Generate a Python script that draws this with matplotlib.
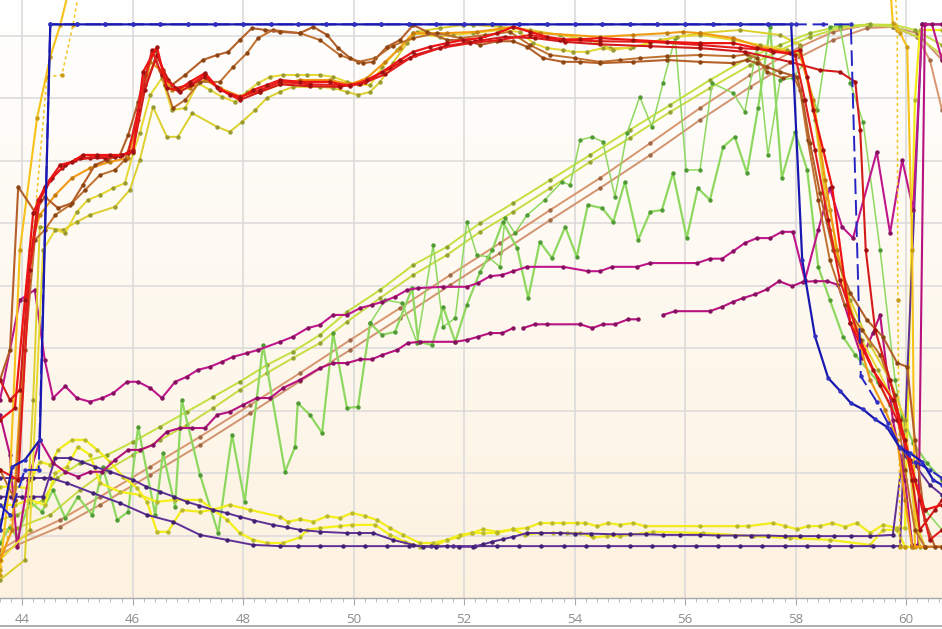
import numpy as np
import matplotlib
matplotlib.use("Agg")
import matplotlib.pyplot as plt
from matplotlib.ticker import MultipleLocator
from matplotlib.lines import Line2D

nan = np.nan
X_TICKS = [44, 46, 48, 50, 52, 54, 56, 58, 60]

# ---------------- data (x in axis units, y in arbitrary level units) -------------
flat_x = [45.0, 45.5, 46.0, 46.5, 47.0, 47.5, 48.0, 48.5, 49.0, 49.5, 50.0, 50.5, 51.0, 51.5,
          52.0, 52.5, 53.0, 53.5, 54.0, 54.5, 55.0, 55.5, 56.0, 56.5, 57.0, 57.5]
BLUE1_X = [43.6, 43.82, 44.05, 44.32, 44.51] + flat_x + [57.92, 58.12, 58.35, 58.59, 58.8, 59.0,
           59.22, 59.44, 59.65, 59.89, 60.07, 60.29, 60.49, 60.65]
BLUE1_Y = [10.9, 21.0, 22.1, 25.3, 91.8] + [91.8] * 26 + [91.8, 54.1, 41.9, 35.2, 33.2, 31.2,
           30.2, 28.6, 27.4, 24.0, 23.2, 21.8, 18.9, 18.1]
BLUE2_X = [43.6, 43.78, 44.05, 44.3, 44.51] + flat_x + [58.0, 58.5, 59.0, 59.18, 59.47, 59.67,
           59.89, 60.16, 60.43, 60.65]
BLUE2_Y = [14.9, 13.3, 20.5, 20.5, 91.8] + [91.8] * 26 + [91.8, 91.8, 91.8, 35.5, 31.4, 28.0,
           24.2, 21.8, 20.5, 19.2]

RED1_X = [43.6, 43.87, 44.05, 44.2, 44.41, 44.69, 44.9, 45.1, 45.36, 45.59, 45.81, 46.01, 46.19,
          46.44, 46.62, 46.82, 47.04, 47.31, 47.53, 47.76, 47.94, 48.18, 48.43, 48.67, 49.03,
          49.57, 49.94, 50.24, 50.52, 50.84, 51.08, 51.38, 51.69, 51.98, 52.29, 52.6, 52.89,
          53.19, 53.5, 53.79, 54.1, 54.46, 55.06, 55.67, 56.27, 56.87, 57.3, 57.59, 57.9, 58.08,
          58.21, 58.32, 58.5, 58.66, 58.99, 59.4, 59.76, 59.98, 60.16, 60.34, 60.65]
RED1_Y = [28.5, 30.4, 47.7, 61.6, 65.8, 69.3, 69.8, 70.9, 70.9, 70.9, 70.9, 71.4, 84.2, 88.2,
          81.6, 81.3, 82.6, 84.0, 81.8, 80.5, 80.0, 81.3, 82.1, 82.9, 82.6, 82.6, 81.9, 82.9, 84.2,
          86.1, 87.4, 88.2, 88.8, 89.3, 89.6, 90.4, 91.4, 90.6, 89.8, 89.4, 89.4, 89.6, 89.3, 89.0,
          88.8, 88.8, 88.0, 87.4, 87.2, 87.7, 83.4, 78.1, 71.7, 65.8, 44.0, 36.5, 31.7, 25.3, 18.9,
          14.1, 14.9]
RED2_X = [43.6, 43.93, 44.14, 44.32, 44.54, 44.78, 45.05, 45.36, 45.68, 45.92, 46.1, 46.35, 46.53,
          46.77, 47.04, 47.31, 47.58, 47.94, 48.31, 48.67, 49.21, 49.75, 50.12, 50.57, 51.02,
          51.56, 52.11, 52.65, 53.19, 53.74, 54.46, 55.37, 56.27, 57.0, 57.54, 57.99, 58.17,
          58.35, 58.59, 58.8, 59.17, 59.53, 59.84, 60.07, 60.25, 60.43, 60.65]
RED2_Y = [20.5, 18.9, 52.5, 63.7, 67.2, 69.3, 70.4, 70.6, 70.6, 71.2, 78.1, 87.7, 83.7, 81.6,
          82.1, 83.7, 81.3, 80.2, 81.3, 82.6, 82.2, 82.1, 82.2, 83.8, 86.4, 88.0, 88.8, 89.3, 90.1,
          89.3, 89.1, 89.0, 88.5, 88.0, 87.7, 86.9, 79.7, 71.7, 60.5, 50.9, 41.3, 34.1, 28.5, 22.1,
          15.7, 9.3, 10.9]
RED3_X = [43.6, 43.78, 43.96, 44.11, 44.29, 44.51, 44.72, 44.96, 45.23, 45.5, 45.77, 46.01, 46.22,
          46.44, 46.64, 46.86, 47.08, 47.31, 47.55, 47.94, 48.31, 48.67, 49.21, 49.75, 50.21,
          50.66, 51.11, 51.66, 52.2, 52.74, 53.28, 53.83, 54.46, 55.37, 56.27, 57.08, 57.9, 58.44,
          58.8, 59.08, 59.17, 59.27, 59.44, 59.71, 59.89, 60.11, 60.25, 60.52, 60.65]
RED3_Y = [34.9, 31.7, 33.3, 50.9, 63.7, 66.9, 68.8, 70.1, 70.4, 70.4, 70.7, 71.7, 81.3, 86.9,
          82.9, 81.0, 82.2, 83.4, 81.6, 79.7, 81.0, 82.2, 81.9, 81.8, 82.6, 84.8, 86.9, 88.3, 89.1,
          89.8, 89.6, 89.0, 88.6, 88.3, 88.0, 87.4, 85.8, 84.5, 84.2, 82.6, 74.9, 55.7, 42.9, 34.9,
          28.5, 18.9, 10.9, 14.1, 15.7]

BROWN1_X = [43.6, 43.78, 43.93, 44.23, 44.41, 44.65, 44.9, 45.1, 45.32, 45.54, 45.77, 45.92, 46.1,
            46.22, 46.41, 46.55, 46.71, 46.95, 47.27, 47.53, 47.73, 47.94, 48.16, 48.4, 48.67,
            49.03, 49.27, 49.52, 49.72, 49.94, 50.17, 50.35, 50.6, 50.84, 51.08, 51.33, 51.69,
            52.05, 52.29, 52.6, 52.89, 53.14, 53.43, 53.79, 54.1, 54.46, 55.06, 55.67, 56.27,
            56.87, 57.12, 57.3, 57.48, 57.72, 58.03, 58.13, 58.26, 58.44, 58.68, 58.99, 59.29,
            59.58, 59.84, 60.02, 60.16, 60.34, 60.52, 60.65]
BROWN1_Y = [34.9, 39.7, 65.8, 61.8, 64.2, 62.4, 63.2, 66.1, 69.3, 70.1, 70.9, 74.1, 79.4, 83.7,
            87.7, 84.5, 82.1, 83.7, 86.1, 86.9, 87.4, 89.3, 91.2, 90.9, 90.6, 90.4, 91.4, 90.1,
            88.0, 86.4, 85.6, 85.8, 88.2, 89.3, 91.7, 90.6, 89.3, 89.3, 88.5, 89.1, 89.1, 88.2,
            86.4, 85.8, 85.8, 85.6, 85.8, 86.1, 85.8, 85.6, 86.1, 85.6, 85.0, 84.2, 83.4, 79.7,
            72.8, 64.8, 55.7, 48.8, 44.5, 41.8, 37.6, 37.0, 25.3, 12.5, 8.2, 8.2]
BROWN2_X = [43.6, 43.87, 44.05, 44.23, 44.41, 44.6, 44.87, 45.14, 45.41, 45.68, 45.86, 46.04,
            46.22, 46.41, 46.59, 46.73, 46.95, 47.22, 47.58, 47.82, 48.07, 48.27, 48.54, 49.03,
            49.39, 49.75, 50.08, 50.39, 50.71, 51.08, 51.51, 51.93, 52.38, 52.83, 53.19, 53.56,
            54.01, 54.46, 54.82, 55.18, 55.67, 56.27, 56.87, 57.12, 57.3, 57.48, 57.77, 57.95,
            58.08, 58.22, 58.41, 58.62, 58.89, 59.2, 59.53, 59.8, 59.98, 60.16, 60.34, 60.65]
BROWN2_Y = [20.5, 15.7, 39.7, 57.3, 58.9, 61.3, 62.9, 65.3, 67.7, 68.5, 70.1, 74.9, 82.1, 86.1,
            82.1, 78.4, 79.7, 82.6, 82.6, 85.0, 87.2, 89.6, 90.9, 90.4, 89.3, 86.9, 85.8, 86.4,
            88.4, 89.6, 90.4, 89.6, 90.1, 90.6, 88.5, 86.9, 86.4, 85.8, 86.1, 86.4, 86.7, 86.9,
            86.7, 87.0, 86.4, 84.2, 83.2, 83.7, 81.3, 73.3, 63.7, 54.1, 46.9, 42.9, 38.9, 32.5,
            20.5, 10.9, 8.2, 8.2]

ORANGE_X = [43.6, 43.82, 43.99, 44.14, 44.32, 44.6, 44.9, 45.23, 45.59, 45.92, 46.1, 46.32, 46.5,
            46.71, 47.04, 47.31, 47.58, 47.94, 48.31, 48.67, 49.03, 49.57, 49.94, 50.24, 50.57,
            50.84, 51.08, 51.69, 52.23, 52.89, 53.37, 54.46, 55.06, 55.67, 55.96, 56.27, 56.87,
            57.36, 57.84, 58.08, 58.32, 58.53, 58.75, 59.08, 59.35, 59.62, 59.84, 59.98, 60.11,
            60.34, 60.65]
ORANGE_Y = [6.1, 10.9, 34.9, 55.7, 61.3, 64.5, 67.2, 68.8, 69.8, 70.4, 76.5, 85.8, 84.5, 81.3,
            81.6, 82.9, 81.6, 80.3, 81.0, 82.2, 82.9, 82.9, 82.2, 83.2, 85.8, 88.0, 90.4, 90.4,
            90.6, 91.4, 90.4, 89.8, 90.1, 90.4, 90.6, 90.4, 89.6, 88.2, 87.4, 86.9, 79.7, 66.9,
            55.7, 42.9, 34.9, 30.1, 25.3, 15.7, 8.2, 8.2, 8.2]
GOLD1_X = [43.6, 43.78, 43.96, 44.27, 44.51, 44.69, 44.87, 59.71, 59.76, 59.89, 60.02, 60.11,
           60.16, 60.65]
GOLD1_Y = [4.5, 18.9, 55.7, 76.8, 86.6, 91.7, 98.1, 98.1, 92.0, 90.4, 88.2, 55.7, 8.2, 8.2]
GOLD2_X = [43.6, 43.87, 44.18, 44.45, 44.72, 44.92, 45.05, 59.8, 59.84, 59.85, 59.89, 59.98]
GOLD2_Y = [3.7, 15.7, 55.7, 83.4, 83.7, 91.7, 98.1, 98.1, 90.9, 47.7, 8.2, 8.2]

OLIVE1_X = [43.6, 44.14, 44.38, 44.6, 44.78, 44.99, 45.19, 45.41, 45.65, 45.86, 46.01, 46.13,
            46.32, 46.53, 46.71, 46.95, 47.18, 47.4, 47.62, 47.85, 48.07, 48.27, 48.49, 48.72,
            48.98, 49.16, 49.39, 49.63, 49.88, 50.08, 50.3, 50.52, 50.79, 51.08, 51.56, 51.8,
            52.16, 52.65, 53.01, 53.25, 53.5, 53.79, 53.97, 54.22, 54.51, 54.7, 55.06, 55.37,
            55.85, 56.27, 56.87, 57.36, 57.84, 58.08, 58.35, 58.62, 58.89, 59.2, 59.49, 59.76,
            59.98, 60.11, 60.25]
OLIVE1_Y = [6.1, 10.9, 55.7, 58.9, 58.4, 61.8, 63.7, 64.5, 65.6, 66.4, 71.2, 74.4, 80.5, 83.2,
            78.1, 78.4, 82.4, 81.3, 80.2, 79.4, 81.0, 82.4, 83.4, 83.7, 83.7, 83.7, 83.7, 83.4,
            82.6, 82.2, 82.1, 85.0, 87.7, 90.4, 89.8, 90.1, 90.4, 90.9, 90.6, 88.8, 88.0, 87.7,
            87.4, 87.4, 88.0, 87.7, 88.2, 88.8, 89.8, 90.1, 89.3, 88.5, 87.7, 87.2, 78.1, 62.1,
            49.3, 41.3, 36.5, 31.7, 26.9, 18.9, 8.2]
OLIVE2_X = [43.6, 44.05, 44.2, 44.32, 44.74, 44.99, 45.23, 45.68, 45.95, 46.13, 46.37, 46.62,
            46.82, 47.08, 47.53, 47.76, 47.98, 48.22, 48.43, 48.67, 48.9, 49.39, 49.63, 49.88,
            50.08, 50.3, 50.48, 50.71, 50.97, 51.15, 51.56, 51.98, 52.16, 52.65, 53.19, 53.74,
            54.28, 54.64, 55.0, 55.55, 56.27, 56.99, 57.72, 58.08, 58.35, 58.62, 58.99, 59.35,
            59.71, 59.98, 60.16, 60.34]
OLIVE2_Y = [2.9, 6.1, 31.7, 59.4, 58.9, 60.2, 61.3, 62.6, 65.3, 70.1, 78.6, 73.8, 73.8, 77.6,
            75.4, 74.6, 76.2, 78.1, 80.0, 81.0, 81.8, 81.8, 81.6, 81.0, 80.5, 81.0, 82.6, 85.6,
            88.8, 90.6, 91.2, 91.7, 91.7, 91.4, 90.9, 90.1, 89.3, 88.0, 88.0, 89.3, 90.4, 90.9,
            90.1, 88.5, 76.5, 58.9, 47.7, 40.5, 34.9, 28.5, 12.5, 8.2]

DIAG1_X = [43.6, 43.91, 44.38, 44.63, 45.05, 45.54, 46.01, 46.5, 46.98, 47.46, 47.94, 48.43,
           48.9, 49.39, 49.88, 50.48, 51.08, 51.69, 52.29, 52.89, 53.56, 54.28, 55.0, 55.73,
           56.45, 57.18, 57.72, 58.26, 58.8, 59.35, 59.8, 60.16, 60.65]
DIAG1_Y = [12.5, 13.3, 15.7, 19.2, 21.6, 22.9, 25.0, 27.4, 29.8, 32.2, 34.6, 37.3, 39.4, 42.1,
           45.8, 49.3, 53.3, 56.2, 60.0, 63.2, 66.9, 70.9, 74.9, 78.9, 82.9, 86.6, 88.5, 90.4,
           91.5, 91.8, 91.7, 90.9, 88.5]
DIAG2_X = [43.6, 43.91, 44.51, 45.05, 45.54, 46.01, 46.5, 46.98, 47.46, 47.94, 48.43, 48.9,
           49.39, 49.88, 50.48, 51.08, 51.69, 52.29, 52.89, 53.56, 54.28, 55.0, 55.73, 56.45,
           57.18, 57.72, 58.26, 58.8, 59.35, 59.8, 60.25, 60.65]
DIAG2_Y = [10.9, 11.2, 13.3, 17.3, 20.5, 22.9, 25.3, 27.7, 30.4, 33.3, 36.0, 38.4, 40.8, 44.2,
           48.0, 51.7, 54.9, 58.6, 61.8, 65.6, 69.8, 73.6, 77.8, 81.6, 85.3, 87.7, 89.8, 91.2,
           91.7, 91.4, 89.6, 86.9]
TAN1_X = [43.6, 43.91, 44.69, 45.41, 46.32, 47.22, 48.13, 49.03, 49.94, 50.84, 51.75, 52.65,
          53.56, 54.46, 55.37, 56.27, 57.18, 58.08, 58.68, 59.29, 59.76, 60.2, 60.43, 60.65]
TAN1_Y = [7.7, 9.3, 12.5, 16.2, 21.0, 25.8, 30.9, 36.0, 41.3, 46.4, 51.7, 56.8, 62.1, 67.2,
          72.8, 78.4, 83.7, 88.2, 90.6, 91.7, 91.4, 89.8, 86.1, 78.1]
TAN2_X = [43.6, 43.91, 44.69, 45.41, 46.32, 47.22, 48.13, 49.03, 49.94, 50.84, 51.75, 52.65,
          53.56, 54.46, 55.37, 56.27, 57.18, 58.08, 58.68, 59.29, 59.76, 60.2, 60.65]
TAN2_Y = [6.9, 8.5, 11.4, 14.9, 19.7, 24.5, 29.6, 34.7, 39.7, 44.8, 50.1, 55.2, 60.5, 65.6,
          70.9, 76.5, 81.8, 86.6, 89.3, 91.2, 91.4, 90.4, 86.1]

GREEN1_X = [43.6, 43.78, 43.91, 44.14, 44.36, 44.56, 44.78, 45.01, 45.27, 45.46, 45.72, 45.92,
            46.1, 46.41, 46.55, 46.77, 46.89, 47.22, 47.55, 47.8, 48.03, 48.36, 48.76, 48.94,
            48.99, 49.21, 49.43, 49.63, 49.88, 50.08, 50.3, 50.51, 50.75, 51.06, 51.17, 51.42,
            51.62, 51.84, 52.05, 52.29, 52.51, 52.7, 52.96, 53.16, 53.37, 53.59, 53.83, 54.04,
            54.24, 54.5, 54.7, 54.91, 55.15, 55.37, 55.58, 55.78, 56.03, 56.23, 56.45, 56.69,
            56.9, 57.12, 57.32, 57.54, 57.75, 57.99, 58.21, 58.41, 58.62, 58.86, 59.08, 59.49,
            59.71, 59.93, 60.13, 60.38, 60.65]
GREEN1_Y = [8.8, 11.4, 9.7, 15.4, 13.8, 17.3, 12.8, 16.2, 13.3, 21.0, 12.5, 13.8, 27.4, 13.3,
            23.2, 14.6, 31.7, 19.7, 10.4, 26.1, 15.4, 40.5, 20.2, 24.2, 31.2, 29.3, 26.4, 42.4,
            30.4, 30.6, 44.0, 42.1, 42.6, 49.6, 41.0, 40.5, 46.6, 41.0, 46.9, 52.2, 55.7, 60.2,
            56.0, 48.0, 57.0, 54.4, 59.4, 54.6, 62.9, 62.4, 60.2, 66.6, 57.3, 61.8, 62.1, 68.0,
            57.6, 65.6, 63.7, 72.2, 73.8, 68.0, 78.4, 91.4, 67.2, 74.6, 68.5, 53.0, 47.7, 41.8,
            38.9, 34.6, 30.9, 29.0, 24.8, 21.6, 18.9]
GREEN2_X = [50.3, 50.57, 50.88, 51.15, 51.44, 51.62, 51.84, 52.05, 52.23, 52.43, 52.65, 52.74,
            52.92, 53.14, 53.46, 53.77, 53.92, 54.1, 54.32, 54.51, 54.73, 54.95, 55.18, 55.4,
            55.6, 55.82, 56.02, 56.27, 56.49, 56.87, 57.08, 57.3, 57.5, 57.72, 57.95, 58.13,
            58.39, 58.62, 58.8, 58.99, 59.22, 59.53, 59.8, 60.07, 60.34, 60.65]
GREEN2_Y = [44.0, 47.7, 47.2, 40.8, 56.5, 43.4, 44.8, 60.2, 54.9, 54.6, 53.0, 60.8, 58.4, 61.3,
            63.7, 66.6, 66.1, 73.3, 73.8, 73.0, 64.2, 74.4, 80.2, 75.4, 82.4, 89.6, 68.5, 68.5,
            82.4, 80.8, 77.8, 88.2, 70.9, 82.9, 83.2, 85.3, 78.1, 91.4, 91.7, 82.4, 76.2, 55.7,
            34.9, 22.1, 14.1, 10.9]

MAG1_X = [43.6, 43.96, 44.23, 44.41, 44.56, 44.78, 44.99, 45.23, 45.45, 45.65, 45.9, 46.1, 46.32,
          46.53, 46.77, 46.98, 47.18, 47.4, 47.62, 47.82, 48.07, 48.27, 48.67, 48.9, 49.17,
          49.39, 49.63, 49.88, 50.12, 50.33, 50.52, 50.75, 50.97, 51.17, 51.62, 52.05, 52.25,
          52.47, 52.69, 52.89, 53.14, 53.79, 54.24, 54.46, 54.68, 55.13, 55.37, 56.22, 56.45,
          56.67, 56.87, 57.08, 57.3, 57.54, 57.75, 57.95, 58.17, 58.41, 58.62, 58.84, 59.04,
          59.47, 59.71, 59.93, 60.13, 60.29, 60.47, 60.65]
MAG1_Y = [31.7, 47.7, 49.3, 38.1, 32.0, 33.9, 32.0, 31.4, 32.0, 32.8, 34.6, 34.6, 33.6, 32.0,
          34.6, 35.4, 36.5, 37.0, 37.8, 38.6, 39.2, 39.7, 41.0, 41.8, 43.2, 43.7, 45.3, 45.3, 46.4,
          46.9, 47.4, 48.2, 49.3, 49.6, 49.8, 49.8, 50.4, 51.5, 51.7, 52.3, 53.0, 53.0, 52.3, 52.3,
          53.0, 53.0, 53.6, 53.6, 54.3, 54.3, 55.5, 56.8, 57.6, 57.6, 58.6, 58.6, 50.9, 58.9, 65.6,
          59.4, 57.6, 71.4, 58.4, 70.1, 62.1, 91.8, 91.8, 86.1]
MAG2_X = [43.6, 43.78, 43.91, 44.11, 44.32, 44.56, 44.78, 45.01, 45.23, 45.45, 45.68, 45.92,
          46.13, 46.37, 46.62, 46.86, 47.08, 47.31, 47.53, 47.76, 48.0, 48.25, 48.49, 48.72,
          49.03, 49.39, 49.63, 49.88, 50.12, 50.33, 50.52, 50.79, 50.98, 51.2, 51.84, 52.05,
          52.25, 52.47, 52.69, 52.89, 52.98, 53.07, 53.28, 53.5, 54.1, 54.32, 54.51, 54.73,
          54.97, 55.15, 55.38, 55.6, 55.82, 56.45, 56.67, 56.87, 57.05, 57.27, 57.48, 57.7,
          57.94, 58.13, 58.35, 58.57, 58.77, 58.99, 59.2, 59.4, 59.53, 59.76, 59.98, 60.11,
          60.22, 60.34, 60.65]
MAG2_Y = [29.3, 22.9, 8.2, 18.9, 25.3, 21.6, 20.2, 19.4, 20.2, 20.2, 22.1, 23.7, 23.7, 24.5,
          26.6, 27.2, 27.2, 27.2, 29.3, 29.8, 30.9, 32.0, 32.0, 33.6, 34.9, 36.8, 37.6, 37.6,
          38.2, 38.2, 38.9, 39.7, 40.8, 41.0, 41.0, 41.3, 41.8, 42.4, 42.4, 43.2, nan, 43.2, 43.8,
          43.8, 43.8, 43.2, 43.8, 43.8, 44.6, 44.6, nan, 45.3, 45.9, 45.9, 46.6, 47.4, 48.0,
          48.6, 49.4, 50.7, 49.9, 50.6, 50.7, 50.7, 50.1, 44.0, 38.4, 42.4, 45.3, 28.5, 18.9,
          8.5, 8.5, 91.8, 91.8]

PURPLE1_X = [43.6, 43.8, 44.0, 44.2, 44.38, 44.6, 44.87, 45.08, 45.32, 45.6, 46.01, 46.25, 46.5,
             46.75, 46.98, 47.2, 47.46, 47.7, 47.94, 48.2, 48.54, 48.8, 49.03, 49.4, 49.88, 50.1,
             50.35, 50.71, 51.08, 51.26, 51.5, 51.69, 51.9, 52.16, 52.35, 52.51, 52.7, 52.89,
             53.14, 53.4, 53.74, 54.0, 54.3, 54.7, 55.0, 55.3, 55.6, 55.9, 56.27, 56.6, 56.9,
             57.2, 57.5, 57.8, 58.08, 58.4, 58.7, 59.0, 59.35, 59.76, 59.94, 60.16, 60.43, 60.65]
PURPLE1_Y = [16.2, 16.2, 16.2, 16.2, 16.2, 22.4, 22.4, 21.8, 21.0, 20.2, 18.9, 17.8, 17.0, 16.2,
             15.4, 14.8, 14.1, 13.6, 13.0, 12.4, 11.7, 11.3, 10.9, 10.6, 10.4, 10.4, 10.4, 9.3,
             8.5, 8.2, 8.2, 8.3, 8.2, 8.2, 8.6, 9.0, 9.4, 9.8, 10.4, 10.4, 10.4, 10.3, 10.3, 10.2,
             10.2, 10.2, 10.1, 10.1, 10.1, 10.0, 10.0, 10.0, 10.0, 9.9, 9.9, 9.9, 9.9, 9.9, 9.9,
             10.1, 22.9, 21.3, 18.1, 16.5]
PURPLE2_X = [43.6, 43.8, 44.0, 44.2, 44.4, 44.51, 44.81, 45.28, 45.77, 46.26, 46.73, 47.22,
             47.71, 48.18, 48.67, 49.0, 49.4, 49.8, 50.2, 50.6, 51.0, 51.4, 51.8, 52.2, 52.6,
             53.0, 53.4, 53.8, 54.2, 54.6, 55.0, 55.4, 55.8, 56.2, 56.6, 57.0, 57.4, 57.8, 58.2,
             58.6, 59.0, 59.4, 59.76, 59.89, 60.29, 60.65]
PURPLE2_Y = [19.2, 19.2, 19.2, 19.2, 19.2, 19.2, 18.4, 16.8, 15.2, 13.3, 12.2, 10.1, 9.3, 8.5,
             8.3, 8.3, 8.3, 8.3, 8.3, 8.3, 8.3, 8.3, 8.3, 8.3, 8.3, 8.3, 8.3, 8.3, 8.3, 8.3, 8.3,
             8.3, 8.3, 8.3, 8.3, 8.3, 8.3, 8.3, 8.3, 8.3, 8.3, 8.3, 8.3, 8.3, 91.8, 91.8]

YELLOW1_X = [43.6, 43.87, 44.09, 44.32, 44.51, 44.65, 44.9, 45.14, 45.36, 45.59, 45.83, 46.08,
             46.26, 46.44, 46.64, 46.89, 47.22, 47.44, 47.76, 48.13, 48.67, 48.81, 49.03, 49.27,
             49.52, 49.75, 49.97, 50.21, 50.42, 50.66, 50.89, 51.2, 51.44, 51.69, 51.93, 52.14,
             52.34, 52.6, 52.89, 53.14, 53.37, 53.59, 53.79, 54.04, 54.19, 54.41, 54.6, 54.82,
             55.06, 55.27, 56.27, 56.94, 57.14, 57.59, 57.81, 58.03, 58.22, 58.44, 58.66, 58.89,
             59.11, 59.35, 59.58, 59.84, 59.98, 60.16, 60.25, 60.65]
YELLOW1_Y = [17.8, 17.8, 17.6, 21.8, 21.3, 23.7, 25.3, 25.3, 23.7, 21.8, 19.4, 17.6, 15.4, 10.6,
             10.6, 14.1, 13.8, 14.1, 14.9, 14.1, 13.0, 12.2, 12.6, 12.2, 13.1, 12.8, 13.6, 13.1,
             12.5, 11.2, 10.1, 8.8, 8.8, 9.3, 10.1, 10.4, 11.0, 10.6, 11.0, 11.2, 12.0, 12.0, 12.0,
             12.0, 12.0, 11.5, 12.0, 11.7, 12.0, 11.5, 11.5, 11.5, 11.5, 12.0, 11.5, 11.0, 11.5,
             11.5, 12.0, 11.4, 12.0, 10.4, 11.7, 11.2, 11.2, 79.7, 90.9, 90.9]
YELLOW2_X = [43.6, 43.87, 44.14, 44.41, 44.6, 44.81, 45.01, 45.23, 45.41, 45.77, 46.13, 46.44,
             46.77, 47.22, 47.46, 47.71, 47.94, 48.18, 48.43, 48.72, 49.03, 49.16, 49.39, 49.75,
             49.97, 50.39, 50.66, 50.93, 51.2, 51.51, 51.69, 51.89, 52.14, 52.34, 52.6, 52.89,
             53.1, 53.37, 53.61, 53.86, 54.1, 54.33, 54.59, 54.82, 55.42, 56.32, 57.23, 57.9,
             58.62, 59.35, 59.58, 59.84, 59.98, 60.11]
YELLOW2_Y = [14.9, 14.9, 15.7, 14.9, 20.0, 21.0, 24.2, 22.9, 18.4, 17.0, 16.5, 15.4, 15.7, 15.7,
             14.1, 12.5, 10.4, 9.3, 8.8, 8.8, 9.7, 10.9, 11.2, 11.5, 11.7, 11.7, 10.1, 9.0, 8.2,
             8.5, 9.3, 9.7, 10.4, 10.4, 10.4, 11.0, 10.1, 10.4, 10.4, 10.4, 10.4, 9.7, 9.9, 9.9,
             10.6, 10.4, 9.9, 9.6, 9.3, 8.5, 10.9, 10.9, 8.2, 8.2]

# ---------------- styling ----------------
SERIES = [
    # (x, y, line colour, marker colour, linewidth, linestyle)
    (TAN2_X, TAN2_Y, "#d2936f", "#a06a48", 1.4, "-"),
    (TAN1_X, TAN1_Y, "#d8956e", "#a06a48", 1.4, "-"),
    (DIAG2_X, DIAG2_Y, "#c8dc44", "#94a235", 1.4, "-"),
    (DIAG1_X, DIAG1_Y, "#c4e040", "#8aa030", 1.4, "-"),
    (GREEN2_X, GREEN2_Y, "#8fd860", "#4f9a35", 1.1, "-"),
    (GREEN1_X, GREEN1_Y, "#8fd860", "#4f9a35", 1.6, "-"),
    (YELLOW2_X, YELLOW2_Y, "#f4f018", "#b8b830", 1.6, "-"),
    (YELLOW1_X, YELLOW1_Y, "#f2ec1a", "#b8b830", 1.6, "-"),
    (PURPLE2_X, PURPLE2_Y, "#5e2f96", "#402070", 1.4, "-"),
    (PURPLE1_X, PURPLE1_Y, "#5e2f96", "#402070", 1.4, "-"),
    (MAG2_X, MAG2_Y, "#b8127f", "#861060", 1.5, "-"),
    (MAG1_X, MAG1_Y, "#c0168c", "#861060", 1.5, "-"),
    (OLIVE2_X, OLIVE2_Y, "#dccf2e", "#9a9a30", 1.4, "-"),
    (OLIVE1_X, OLIVE1_Y, "#e6d830", "#9a9a30", 1.4, "-"),
    (GOLD2_X, GOLD2_Y, "#f5c41c", "#c89a10", 1.1, (0, (2, 2))),
    (GOLD1_X, GOLD1_Y, "#f7c21a", "#c89a10", 1.5, "-"),
    (ORANGE_X, ORANGE_Y, "#f29a12", "#c07a10", 1.5, "-"),
    (BROWN2_X, BROWN2_Y, "#c0702e", "#8b4513", 1.4, "-"),
    (BROWN1_X, BROWN1_Y, "#b5602a", "#8b4513", 1.5, "-"),
    (RED3_X, RED3_Y, "#d41a1a", "#a01010", 1.5, "-"),
    (RED2_X, RED2_Y, "#e21c1c", "#a01010", 1.5, "-"),
    (RED1_X, RED1_Y, "#ee1414", "#a01010", 1.6, "-"),
    (BLUE2_X, BLUE2_Y, "#2424c4", "#3030c0", 1.4, (0, (8, 3))),
    (BLUE1_X, BLUE1_Y, "#1818b0", "#3030c0", 1.6, "-"),
]

W, H = 942, 629
fig = plt.figure(figsize=(W / 100, H / 100), dpi=100)
fig.patch.set_facecolor("white")
ax = fig.add_axes([0, 31 / H, 1, 598 / H])
ax.set_xlim(43.6, 60.65)
ax.set_ylim(0, 95.7)

# background gradient: white at top -> cream at bottom
grad = np.linspace(0, 1, 256).reshape(-1, 1)
top = np.array([1.0, 1.0, 1.0])
bot = np.array([253, 242, 224]) / 255
img = top[None, None, :] * (1 - grad[:, :, None]) + bot[None, None, :] * grad[:, :, None]
ax.imshow(img, extent=[0, 1, 0, 1], transform=ax.transAxes, aspect="auto",
          origin="upper", zorder=0)

# grid
for gx in X_TICKS:
    ax.axvline(gx, color="#d9d9d9", lw=1.1, zorder=1)
for gy in range(10, 100, 10):
    ax.axhline(gy, color="#dadada", lw=1.1, zorder=1)

for i, (xs, ys, lc, mc, lw, ls) in enumerate(SERIES):
    ax.plot(xs, ys, color=lc, lw=lw, ls=ls, marker="o", ms=2.8, mfc=mc, mec=mc,
            mew=0.3, zorder=3 + i * 0.01, solid_joinstyle="round")

# axes styling
for s in ["top", "left", "right"]:
    ax.spines[s].set_visible(False)
ax.spines["bottom"].set_color("#a8a8a8")
ax.spines["bottom"].set_linewidth(1.0)
ax.set_yticks([])
ax.set_xticks(X_TICKS)
ax.xaxis.set_minor_locator(MultipleLocator(0.2))
ax.tick_params(axis="x", which="major", length=5, width=0.8, color="#a8a8a8",
               labelsize=9.5, labelcolor="#8c8c8c", pad=6)
ax.tick_params(axis="x", which="minor", length=3, width=0.7, color="#b8b8b8")
for lab in ax.get_xticklabels():
    lab.set_family(["Open Sans", "DejaVu Sans"])

# bottom border line of the widget
fig.add_artist(Line2D([0, 1], [3.0 / H, 3.0 / H], color="#a0a0a0", lw=1.2,
                      transform=fig.transFigure))

fig.savefig("out.png", dpi=100, facecolor="white")
